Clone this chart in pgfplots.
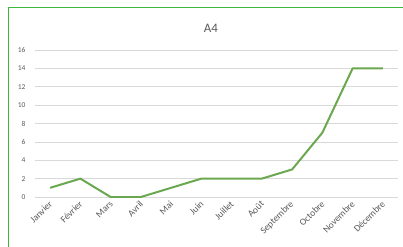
\documentclass[border=0pt]{standalone}
\usepackage{pgfplots}
\pgfplotsset{compat=1.18}
\usepackage{fontspec}
\setmainfont{Carlito}
\definecolor{linegreen}{HTML}{6AA84F}
\definecolor{bordergreen}{HTML}{3DB83D}
\definecolor{txtgray}{HTML}{595959}
\definecolor{gridgray}{HTML}{D9D9D9}
\newcommand{\rl}[1]{\rotatebox{45}{#1}}
\begin{document}
\begin{tikzpicture}
\begin{axis}[
  at={(0bp,0bp)}, anchor=south west,
  scale only axis, width=363bp, height=147bp,
  xmin=-0.5, xmax=11.5, ymin=0, ymax=16,
  xtick={0,...,11},
  xticklabels={\rl{Janvier},\rl{Février},\rl{Mars},\rl{Avril},\rl{Mai},\rl{Juin},\rl{Juillet},\rl{Août},\rl{Septembre},\rl{Octobre},\rl{Novembre},\rl{Décembre}},
  ytick={0,2,...,16},
  axis line style={draw=none},
  major tick length=0pt,
  ymajorgrids, grid style={gridgray, line width=0.6pt},
  xticklabel style={anchor=north east, font=\fontsize{9.5}{10}\selectfont, text=txtgray, inner sep=0pt, xshift=3bp, yshift=-3bp},
  yticklabel style={font=\fontsize{7.5}{8}\selectfont, text=txtgray, xshift=-6bp},
  /pgf/number format/assume math mode=true,
  clip=false,
]
\addplot[linegreen, line width=2pt, line join=round] coordinates {
(0,1) (1,2) (2,0) (3,0) (4,1) (5,2) (6,2) (7,2) (8,3) (9,7) (10,14) (11,14)
};
\end{axis}
\node[text=txtgray, font=\fontsize{13}{15}\selectfont] at (176bp,169bp) {A4};
\draw[bordergreen, line width=1pt] (-27bp,-50bp) -- (-27bp,189bp) -- (368bp,189bp);
\pgfresetboundingbox
\useasboundingbox (-35bp,-50bp) rectangle (368bp,197bp);
\end{tikzpicture}
\end{document}
